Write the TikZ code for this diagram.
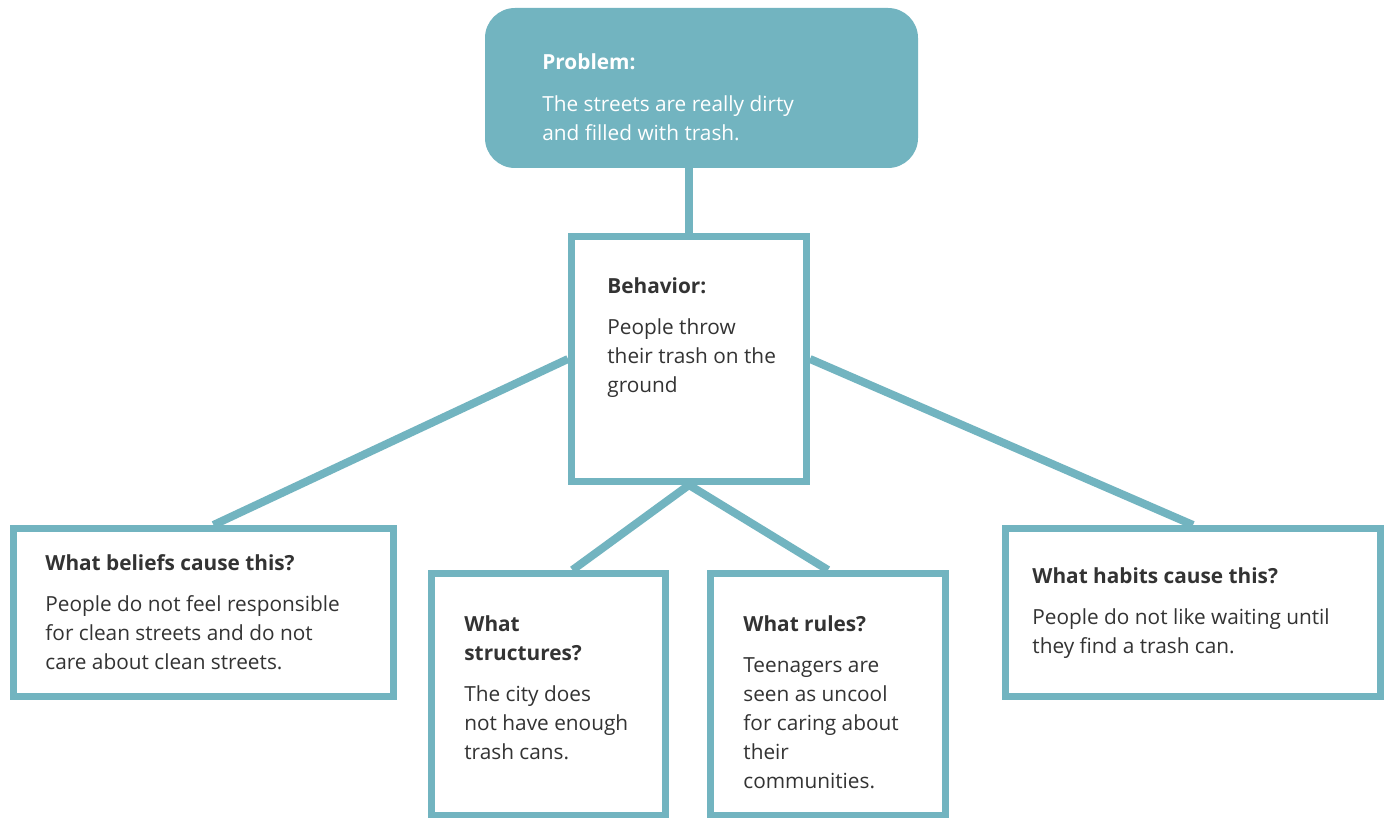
\documentclass[tikz,border=0pt]{standalone}
\usepackage{fontspec}
\setmainfont{Open Sans}
\usepackage{tikz}
\usetikzlibrary{shapes}
\usetikzlibrary{positioning}
\definecolor{tealbox}{HTML}{72B4C0}
\definecolor{ink}{HTML}{333333}

\begin{document}
\begin{tikzpicture}[x=0.5pt,y=-0.5pt]
\tikzstyle{box}=[draw=tealbox,line width=3.5pt,fill=white,inner sep=0pt]
\tikzstyle{problem}=[fill=tealbox,rounded corners=15pt,inner sep=0pt]
\tikzstyle{txt}=[anchor=north west,align=left,inner sep=0pt,text=ink,font=\fontsize{10.4}{14.5}\selectfont]
\tikzstyle{link}=[draw=tealbox,line width=4pt]
\useasboundingbox (0,0) rectangle (1387,818);
\fill[white] (0,0) rectangle (1387,818);
% boxes
\node[problem,minimum width=216.5pt,minimum height=80pt] (P) at (701.5,88) {};
\node[box,minimum width=117.5pt,minimum height=122.5pt] (B) at (689,359) {};
\node[box,minimum width=190pt,minimum height=84pt] (Bel) at (203.5,612.5) {};
\node[box,minimum width=117pt,minimum height=120.75pt] (Str) at (548.5,694.25) {};
\node[box,minimum width=117.5pt,minimum height=120.75pt] (Rul) at (828,694.25) {};
\node[box,minimum width=187.5pt,minimum height=84pt] (Hab) at (1193,612.5) {};
% links
\draw[link] (B.north) -- (B.north |- P.south);
\draw[link] (B.west) -- ([xshift=5pt]Bel.north);
\draw[link] (B.east) -- (Hab.north);
\draw[link] (B.south) -- ([xshift=12pt]Str.north);
\draw[link] (B.south) -- (Rul.north);
% texts
\node[txt,text=white] (tP) at (542,53) {\textbf{Problem:}\\[6.5pt]The streets are really dirty\\and filled with trash.};
\node[txt] (tB) at (607,277.5) {\textbf{Behavior:}\\[6pt]People throw\\their trash on the\\ground};
\node[txt] (tBel) at (45,554) {\textbf{What beliefs cause this?}\\[6pt]People do not feel responsible\\for clean streets and do not\\care about clean streets.};
\node[txt] (tStr) at (464,615) {\textbf{What}\\\textbf{structures?}\\[6pt]The city does\\not have enough\\trash cans.};
\node[txt] (tRul) at (743,615) {\textbf{What rules?}\\[6pt]Teenagers are\\seen as uncool\\for caring about\\their\\communities.};
\node[txt] (tHab) at (1032,567) {\textbf{What habits cause this?}\\[6pt]People do not like waiting until\\they find a trash can.};
\end{tikzpicture}
\end{document}
